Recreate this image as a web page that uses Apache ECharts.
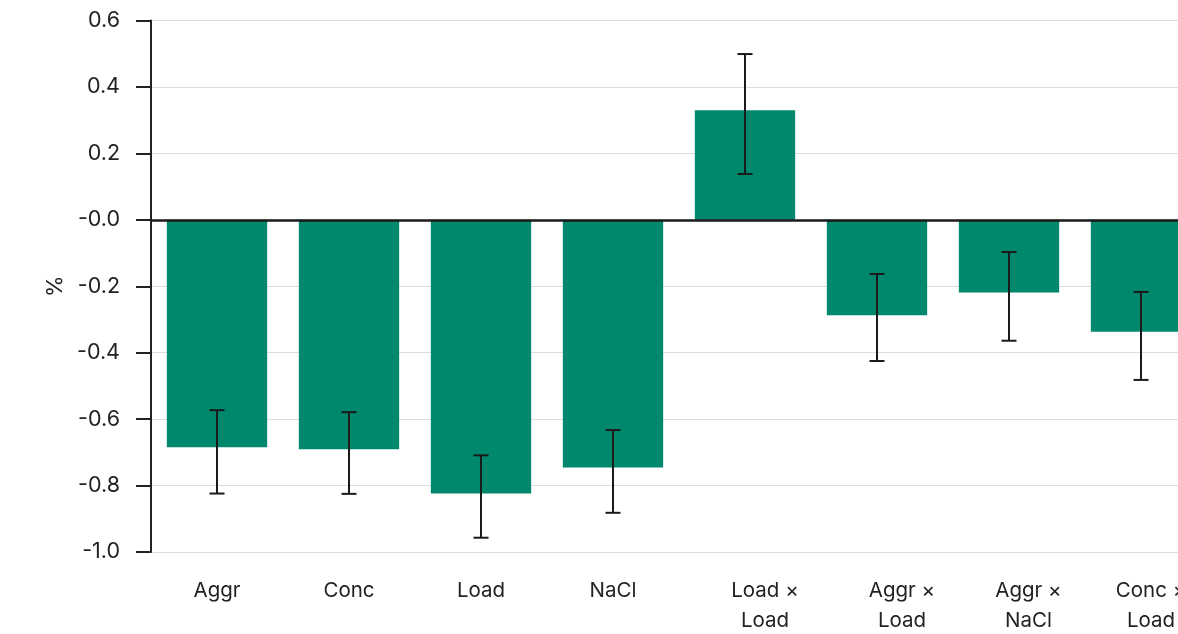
<!DOCTYPE html>
<html>
<head>
<meta charset="utf-8">
<script src="https://cdn.jsdelivr.net/npm/echarts@6/dist/echarts.min.js"></script>
<style>html,body{margin:0;padding:0;background:#fff}#c{width:1178px;height:634px}</style>
</head>
<body>
<div id="c"></div>
<script>
const categories = ['Aggr', 'Conc', 'Load', 'NaCl', 'Load ×\nLoad', 'Aggr ×\nLoad', 'Aggr ×\nNaCl', 'Conc ×\nLoad'];
const values = [-0.685, -0.691, -0.824, -0.746, 0.330, -0.287, -0.219, -0.337];
const errLow = [-0.824, -0.825, -0.957, -0.882, 0.138, -0.425, -0.364, -0.482];
const errHigh = [-0.573, -0.579, -0.709, -0.633, 0.499, -0.163, -0.097, -0.217];
const yTicks = [-1.0, -0.8, -0.6, -0.4, -0.2, 0.0, 0.2, 0.4, 0.6];

const chart = echarts.init(document.getElementById('c'), null, {renderer: 'canvas'});
const font = 'Inter, "Noto Sans", sans-serif';
const labelShift = [0, 0, 0, 0, 40, 50, 39, 20];
const catData = categories.map((c, i) => ({value: c, textStyle: {padding: [0, 0, 0, labelShift[i]]}}));
chart.setOption({
  animation: false,
  grid: {left: 151, top: 20.5, width: 1056, bottom: 82, containLabel: false, outerBoundsMode: 'none'},
  xAxis: {
    type: 'category',
    data: catData,
    axisLine: {show: false, onZero: false},
    axisTick: {show: false},
    axisLabel: {color: '#222', fontSize: 20.5, fontFamily: font, margin: 24, lineHeight: 30, interval: 0}
  },
  yAxis: {
    type: 'value',
    min: yTicks[0], max: yTicks[yTicks.length - 1], interval: 0.2,
    name: '%', nameLocation: 'middle', nameGap: 84, nameRotate: 90,
    nameTextStyle: {color: '#222', fontSize: 22, fontFamily: font},
    axisLine: {show: true, lineStyle: {color: '#222', width: 2}},
    axisTick: {show: true, length: 15, lineStyle: {color: '#222', width: 2}},
    axisLabel: {color: '#222', fontSize: 21.5, fontFamily: font, margin: 31,
      formatter: v => (Math.abs(v) < 1e-9 ? '-0.0' : v.toFixed(1))},
    splitLine: {show: true, lineStyle: {color: '#dcdcdc', width: 1}}
  },
  series: [
    {
      type: 'bar',
      data: values,
      barCategoryGap: '24%',
      itemStyle: {color: '#00886C'},
      markLine: {
        silent: true, symbol: 'none', label: {show: false},
        lineStyle: {color: '#1a1a1a', width: 2.5, type: 'solid'},
        data: [{yAxis: 0}]
      },
      z: 2
    },
    {
      type: 'custom',
      z: 5,
      data: categories.map((c, i) => [i, errLow[i], errHigh[i]]),
      renderItem: function (params, api) {
        const x = api.value(0);
        const lo = api.coord([x, api.value(1)]);
        const hi = api.coord([x, api.value(2)]);
        const w = 7.5;
        const st = {stroke: '#1a1a1a', lineWidth: 2};
        return {
          type: 'group',
          children: [
            {type: 'line', shape: {x1: lo[0], y1: lo[1], x2: hi[0], y2: hi[1]}, style: st},
            {type: 'line', shape: {x1: lo[0] - w, y1: lo[1], x2: lo[0] + w, y2: lo[1]}, style: st},
            {type: 'line', shape: {x1: hi[0] - w, y1: hi[1], x2: hi[0] + w, y2: hi[1]}, style: st}
          ]
        };
      }
    }
  ]
});
</script>
</body>
</html>
